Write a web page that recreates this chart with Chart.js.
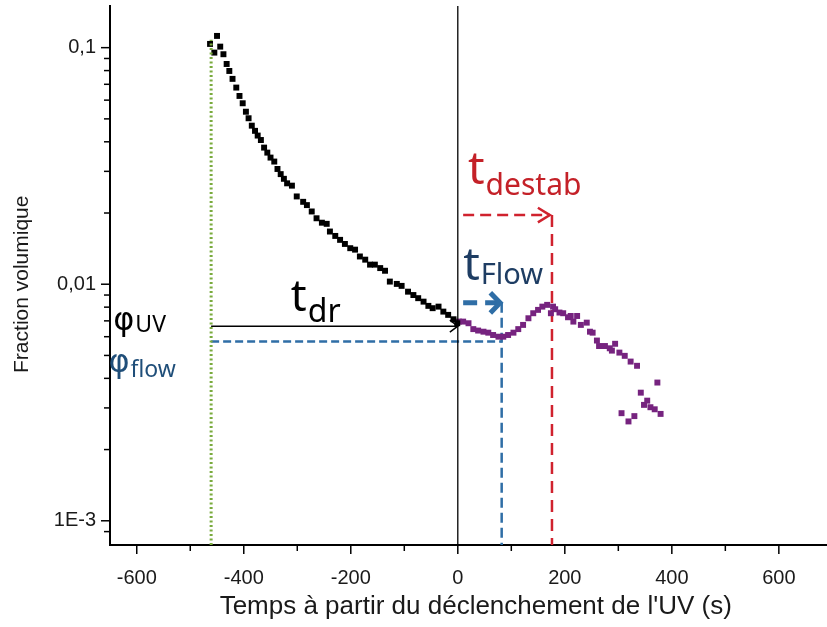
<!DOCTYPE html>
<html>
<head>
<meta charset="utf-8">
<script src="https://cdn.jsdelivr.net/npm/chart.js@4.4.1/dist/chart.umd.min.js"></script>
<style>
  html, body { margin: 0; padding: 0; background: #fff; }
  canvas { display: block; }
</style>
</head>
<body>
<canvas id="chart" width="827" height="627"></canvas>
<script>
// Fraction volumique vs temps (log scale), before / after UV trigger

// before UV (black squares)
const beforeTime = [-463, -455, -450, -444, -438, -432, -427, -421, -414, -408,
  -402, -396, -391, -385, -379, -374, -368, -362, -356, -350,
  -343, -337, -331, -325, -319, -310, -301, -289, -282, -273,
  -264, -254, -245, -239, -229, -220, -211, -201, -192, -183,
  -173, -164, -155, -145, -136, -127, -114, -105, -93, -83,
  -74, -64, -55, -47, -36, -27, -18, -8, -1];
const beforeFraction = [0.1037, 0.0953, 0.1121, 0.101, 0.0938, 0.0853, 0.0797, 0.0738, 0.0678, 0.0625,
  0.0582, 0.0536, 0.0503, 0.0468, 0.0445, 0.0425, 0.0407, 0.0378, 0.036, 0.0343,
  0.033, 0.0307, 0.0292, 0.0279, 0.0267, 0.0261, 0.0235, 0.0223, 0.0216, 0.0203,
  0.019, 0.0182, 0.018, 0.0167, 0.016, 0.0154, 0.0148, 0.0142, 0.014, 0.0131,
  0.0127, 0.0121, 0.0121, 0.0117, 0.0114, 0.01026, 0.01003, 0.00984, 0.0093, 0.009,
  0.00873, 0.00844, 0.0081, 0.00792, 0.00804, 0.00766, 0.00742, 0.00711, 0.00684];

// after UV (purple squares)
const afterTime = [2, 10, 20, 29, 38, 48, 57, 66, 76, 85,
  94, 104, 113, 122, 132, 141, 150, 158, 167, 174,
  178, 182, 190, 197, 206, 211, 216, 223, 230, 241,
  247, 252, 260, 264, 275, 284, 288, 294, 302, 306,
  312, 319, 323, 330, 335, 342, 348, 354, 360, 368,
  373, 379];
const afterFraction = [0.00695, 0.00695, 0.00684, 0.00646, 0.00637, 0.0063, 0.00624, 0.0061, 0.006, 0.006,
  0.0061, 0.00624, 0.00646, 0.00673, 0.00718, 0.00754, 0.00779, 0.00804, 0.00818, 0.00754,
  0.00804, 0.00784, 0.00759, 0.00754, 0.00725, 0.00734, 0.00695, 0.00734, 0.00673, 0.00688,
  0.0063, 0.00624, 0.00578, 0.00548, 0.00548, 0.00536, 0.00524, 0.0056, 0.00514, 0.00285,
  0.00498, 0.00263, 0.00471, 0.00277, 0.00452, 0.00348, 0.00309, 0.00322, 0.00302, 0.00296,
  0.00384, 0.00283];

// axes
const xMin = -650, xMax = 690;
const yMin = 0.00079, yMax = 0.15;
const xTicks = [-600, -500, -400, -300, -200, -100, 0, 100, 200, 300, 400, 500, 600];
const xLabelled = [-600, -400, -200, 0, 200, 400, 600];
const yTicks = [0.0009, 0.001, 0.002, 0.003, 0.004, 0.005, 0.006, 0.007, 0.008, 0.009,
  0.01, 0.02, 0.03, 0.04, 0.05, 0.06, 0.07, 0.08, 0.09, 0.1];
const yLabelled = [0.001, 0.01, 0.1];
const yLabels = ['1E-3', '0,01', '0,1'];

// marker times (s) and levels
const tUV = -461, tFlow = 82, tDestab = 176;
const phiUV = 0.00665, phiFlow = 0.00572;
const uvTop = 0.108, flowArrowLevel = 0.00834, destabArrowLevel = 0.0196;
const arrowStart = 10;

const pts = (xs, ys) => xs.map((x, i) => ({ x: x, y: ys[i] }));

// text notes anchored in data space (left, baseline)
const notes = [
  { main: 't', sub: 'dr', x: -312, y: 0.00772, color: '#000000', size: 44, subSize: 32, subDy: 11 },
  { main: 't', sub: 'destab', x: 19, y: 0.02654, color: '#c42128', size: 46, subSize: 30, subDy: 11 },
  { main: 't', sub: 'Flow', x: 10, y: 0.01043, color: '#1e3d63', size: 46, subSize: 29, subDy: 4 },
  { main: '\u03c6', sub: 'UV', x: -644, y: 0.00641, color: '#000000', size: 32, subSize: 23, subDy: 2, phi: true },
  { main: '\u03c6', sub: 'flow', x: -653, y: 0.00426, color: '#1f4e79', size: 32, subSize: 23, subDy: 5, phi: true }
];

const guide = (data, color, width, dash, extra) => Object.assign({
  data: data, showLine: true, borderColor: color, borderWidth: width,
  borderDash: dash, pointRadius: 0, pointHoverRadius: 0, fill: false
}, extra || {});

const tickFont = { family: 'Liberation Sans', size: 20 };

// minor/major tick marks and arrows + labels
const decorations = {
  id: 'decorations',
  afterDraw(chart) {
    const ctx = chart.ctx;
    const x = chart.scales.x, y = chart.scales.y;
    ctx.save();
    ctx.strokeStyle = '#000';
    ctx.lineWidth = 1.5;
    xTicks.forEach(v => {
      const px = x.getPixelForValue(v);
      const len = xLabelled.includes(v) ? 9 : 6;
      ctx.beginPath();
      ctx.moveTo(px, x.top);
      ctx.lineTo(px, x.top + len);
      ctx.stroke();
    });
    yTicks.forEach(v => {
      const py = y.getPixelForValue(v);
      const len = yLabelled.includes(v) ? 9 : 6;
      ctx.beginPath();
      ctx.moveTo(y.right, py);
      ctx.lineTo(y.right - len, py);
      ctx.stroke();
    });

    // arrow heads at the end of guide lines
    chart.data.datasets.forEach((ds, i) => {
      if (!ds.arrowHead) return;
      const el = chart.getDatasetMeta(i).data;
      const a = el[el.length - 2], b = el[el.length - 1];
      const ang = Math.atan2(b.y - a.y, b.x - a.x);
      const h = ds.arrowHead;
      ctx.strokeStyle = ds.borderColor;
      ctx.lineWidth = h.width;
      ctx.setLineDash([]);
      ctx.lineCap = 'butt';
      ctx.lineJoin = 'miter';
      ctx.beginPath();
      ctx.moveTo(b.x - h.len * Math.cos(ang - h.spread), b.y - h.len * Math.sin(ang - h.spread));
      ctx.lineTo(b.x, b.y);
      ctx.lineTo(b.x - h.len * Math.cos(ang + h.spread), b.y - h.len * Math.sin(ang + h.spread));
      ctx.stroke();
    });

    ctx.textBaseline = 'alphabetic';
    ctx.textAlign = 'left';
    notes.forEach(n => {
      const px = x.getPixelForValue(n.x), py = y.getPixelForValue(n.y);
      ctx.fillStyle = n.color;
      ctx.font = n.size + 'px ' + (n.phi ? '"DejaVu Sans"' : '"Noto Sans"');
      ctx.fillText(n.main, px, py);
      const w = ctx.measureText(n.main).width;
      ctx.font = n.subSize + 'px "Noto Sans"';
      ctx.fillText(n.sub, px + w + 1, py + n.subDy);
    });
    ctx.restore();
  }
};

new Chart(document.getElementById('chart'), {
  type: 'scatter',
  data: {
    datasets: [
      guide([{ x: tUV, y: yMin }, { x: tUV, y: uvTop }], '#7aab3e', 3, [2, 2.5]),
      guide([{ x: 0, y: yMin }, { x: 0, y: yMax }], '#000000', 1.3, []),
      {
        data: pts(beforeTime, beforeFraction),
        pointStyle: 'rect', pointRadius: 4.2, pointBorderWidth: 0,
        backgroundColor: '#000000', borderColor: '#000000', showLine: false
      },
      {
        data: pts(afterTime, afterFraction),
        pointStyle: 'rect', pointRadius: 4.2, pointBorderWidth: 0,
        backgroundColor: '#76237f', borderColor: '#76237f', showLine: false
      },
      guide([{ x: tUV, y: phiUV }, { x: 0, y: phiUV }], '#000000', 1.5, [],
        { arrowHead: { len: 10, spread: 0.65, width: 1.5 } }),
      guide([{ x: tUV, y: phiFlow }, { x: tFlow, y: phiFlow }], '#2f6ea6', 2.5, [8, 4]),
      guide([{ x: tFlow, y: flowArrowLevel }, { x: tFlow, y: yMin }], '#2f6ea6', 2.5, [10, 5]),
      guide([{ x: arrowStart, y: flowArrowLevel }, { x: tFlow - 3, y: flowArrowLevel }], '#2f6ea6', 5, [14, 8],
        { arrowHead: { len: 14, spread: 0.8, width: 5 } }),
      guide([{ x: arrowStart, y: destabArrowLevel }, { x: tDestab - 4, y: destabArrowLevel }], '#d0222e', 2.5, [11, 6],
        { arrowHead: { len: 14, spread: 0.55, width: 2.5 } }),
      guide([{ x: tDestab, y: destabArrowLevel }, { x: tDestab, y: yMin }], '#d0222e', 2.5, [12, 7])
    ]
  },
  options: {
    responsive: false,
    animation: false,
    layout: { autoPadding: false, padding: { top: 6, right: 0, bottom: 0, left: 0 } },
    plugins: {
      legend: { display: false },
      tooltip: { enabled: false }
    },
    scales: {
      x: {
        type: 'linear',
        min: xMin,
        max: xMax,
        afterBuildTicks: axis => { axis.ticks = xTicks.map(v => ({ value: v })); },
        afterFit: axis => { axis.height = 82; axis.paddingLeft = 0; axis.paddingRight = 0; },
        ticks: {
          color: '#1a1a1a',
          font: tickFont,
          padding: 13,
          maxRotation: 0,
          callback: v => (xLabelled.includes(v) ? String(v) : '')
        },
        grid: { drawOnChartArea: false, drawTicks: true, tickLength: 8, tickColor: 'rgba(0,0,0,0)' },
        border: { display: true, color: '#000', width: 2 },
        title: {
          display: true,
          // leading no-break spaces nudge the centred title right
          text: "\u00a0\u00a0Temps \u00e0 partir du d\u00e9clenchement de l'UV (s)",
          color: '#1a1a1a',
          font: { family: 'Liberation Sans', size: 26 },
          padding: { top: 0, bottom: 5 }
        }
      },
      y: {
        type: 'logarithmic',
        min: yMin,
        max: yMax,
        afterBuildTicks: axis => { axis.ticks = yTicks.map(v => ({ value: v })); },
        afterFit: axis => { axis.width = 110; axis.paddingTop = 0; axis.paddingBottom = 0; },
        ticks: {
          color: '#1a1a1a',
          font: tickFont,
          padding: 6,
          callback: v => {
            const k = yLabelled.indexOf(v);
            return k >= 0 ? yLabels[k] : '';
          }
        },
        grid: { drawOnChartArea: false, drawTicks: true, tickLength: 8, tickColor: 'rgba(0,0,0,0)' },
        border: { display: true, color: '#000', width: 2 },
        title: {
          display: true,
          // trailing no-break spaces nudge the rotated title down
          text: 'Fraction volumique\u00a0\u00a0\u00a0',
          color: '#1a1a1a',
          font: { family: 'Liberation Sans', size: 21 },
          padding: { top: 10, bottom: 0 }
        }
      }
    }
  },
  plugins: [decorations]
});
</script>
</body>
</html>
